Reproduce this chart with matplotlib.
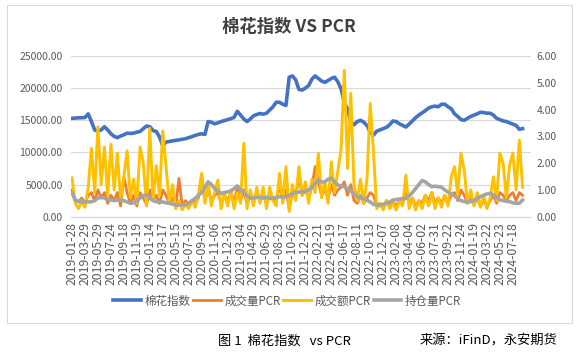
import matplotlib
matplotlib.use("Agg")
import matplotlib.pyplot as plt
from matplotlib.patches import Rectangle
import numpy as np

plt.rcParams['font.family'] = ['Noto Sans CJK SC', 'DejaVu Sans']

# tick labels (one every 4 samples)
date_labels = ['2019-01-28', '2019-03-29', '2019-05-29', '2019-07-24', '2019-09-18',
               '2019-11-19', '2020-01-14', '2020-03-17', '2020-05-15', '2020-07-13',
               '2020-09-04', '2020-11-06', '2020-12-31', '2021-03-04', '2021-04-29',
               '2021-06-29', '2021-08-23', '2021-10-26', '2021-12-20', '2022-02-21',
               '2022-04-19', '2022-06-17', '2022-08-11', '2022-10-13', '2022-12-07',
               '2023-02-08', '2023-04-04', '2023-06-02', '2023-07-31', '2023-09-22',
               '2023-11-24', '2024-01-19', '2024-03-22', '2024-05-23', '2024-07-18']

# 棉花指数 (left axis)
cotton_index = [15300, 15350, 15380, 15400, 15430, 16000, 14800, 13500, 13300, 13500,
                14000, 13500, 12900, 12500, 12300, 12550, 12750, 13000, 12950, 13000,
                13150, 13260, 13700, 14100, 14000, 13400, 13250, 12400, 11000, 11600,
                11700, 11800, 11870, 11950, 12050, 12130, 12300, 12450, 12650, 12800,
                12900, 12800, 14800, 14700, 14450, 14600, 14800, 14950, 15100, 15250,
                15450, 16400, 15800, 15200, 14800, 15200, 15700, 15900, 16050, 15950,
                16100, 16600, 17100, 17800, 17800, 17500, 17300, 21700, 21900, 21300,
                19800, 19700, 20000, 20400, 21400, 21900, 21500, 21100, 20900, 21200,
                21500, 21700, 21000, 19900, 17800, 16700, 14800, 14300, 14800, 15000,
                14700, 14200, 13100, 12700, 13300, 13500, 13700, 13900, 14300, 14900,
                14800, 14450, 14200, 13950, 14400, 14900, 15400, 15800, 16150, 16500,
                16900, 17100, 17200, 17100, 17500, 17500, 17100, 16800, 16000, 15600,
                15100, 15000, 15300, 15600, 15800, 16000, 16250, 16200, 16100, 16100,
                15800, 15300, 15100, 14900, 14800, 14600, 14400, 14200, 13600, 13700]

# 成交量PCR (right axis)
volume_pcr = [1.0, 0.6, 0.55, 0.7, 0.5, 0.8, 0.9, 0.6, 1.0, 0.7,
              0.9, 0.5, 0.8, 0.6, 0.9, 0.4, 1.49, 0.9, 0.5, 0.8,
              0.4, 0.9, 0.7, 0.45, 1.0, 0.6, 0.8, 0.5, 1.0, 0.8,
              0.5, 0.7, 0.4, 1.43, 0.4, 0.6, 0.45, 0.6, 0.5, 0.7,
              1.55, 0.6, 1.0, 0.6, 0.8, 0.9, 0.5, 0.8, 0.6, 0.9,
              0.5, 1.1, 0.6, 1.0, 0.5, 0.8, 0.6, 0.9, 0.6, 0.8,
              0.5, 0.9, 0.7, 0.6, 1.2, 0.6, 1.0, 0.3, 0.9, 0.7,
              1.55, 0.8, 1.0, 0.7, 1.1, 1.87, 1.3, 0.8, 1.0, 0.7,
              1.2, 0.8, 1.0, 1.1, 1.3, 0.8, 1.2, 0.6, 0.5, 0.8,
              0.5, 0.7, 0.9, 0.8, 0.4, 0.5, 0.35, 0.6, 0.4, 0.55,
              0.4, 0.6, 0.5, 0.9, 0.5, 0.7, 0.4, 0.6, 0.5, 0.8,
              0.6, 0.9, 0.5, 0.7, 0.5, 0.8, 0.5, 0.8, 0.9, 0.6,
              1.0, 0.8, 0.5, 0.7, 0.45, 0.7, 0.4, 0.6, 0.4, 0.6,
              0.8, 0.5, 0.9, 0.8, 0.6, 0.8, 0.9, 0.6, 0.9, 0.8]

# 成交额PCR (right axis)
amount_pcr = [1.45, 0.5, 0.3, 0.6, 0.35, 1.1, 2.55, 0.9, 3.36, 1.2,
              2.6, 0.8, 2.7, 1.0, 2.37, 0.6, 1.5, 2.46, 0.7, 1.4,
              0.5, 2.6, 2.0, 0.4, 3.3, 0.6, 1.9, 0.8, 3.2, 1.9,
              0.5, 1.2, 0.3, 0.6, 0.25, 0.5, 0.3, 0.6, 0.35, 0.8,
              1.62, 0.5, 1.3, 0.4, 0.9, 1.37, 0.3, 0.9, 0.4, 1.0,
              0.3, 0.9, 0.5, 2.74, 0.3, 1.0, 0.4, 1.1, 0.5, 1.1,
              0.3, 1.1, 0.6, 0.4, 1.62, 0.5, 1.87, 0.2, 1.2, 0.6,
              1.87, 0.8, 1.3, 0.5, 1.4, 0.9, 2.37, 0.7, 1.3, 0.5,
              2.05, 0.9, 1.7, 2.5, 5.47, 1.8, 4.6, 1.2, 0.6, 1.4,
              0.5, 1.4, 4.23, 2.43, 0.3, 0.5, 0.25, 0.6, 0.3, 0.5,
              0.25, 0.6, 0.4, 1.55, 0.3, 0.7, 0.25, 0.6, 0.3, 0.8,
              0.4, 0.9, 0.3, 0.7, 0.35, 0.8, 0.4, 1.49, 1.87, 0.8,
              2.37, 1.74, 0.5, 1.0, 0.4, 0.9, 0.35, 0.8, 0.3, 0.7,
              1.49, 0.6, 2.37, 2.0, 0.7, 1.93, 2.37, 1.0, 2.86, 1.1]

# 持仓量PCR (right axis)
oi_pcr = [0.9, 0.62, 0.58, 0.56, 0.56, 0.55, 0.56, 0.6, 0.7, 0.72,
          0.7, 0.65, 0.62, 0.6, 0.62, 0.62, 0.6, 0.55, 0.5, 0.52,
          0.6, 0.7, 0.78, 0.82, 0.7, 0.6, 0.56, 0.55, 0.55, 0.52,
          0.5, 0.47, 0.44, 0.44, 0.45, 0.44, 0.5, 0.6, 0.68, 0.8,
          0.9, 1.1, 1.3, 1.2, 1.05, 0.95, 0.87, 0.9, 0.93, 0.95,
          1.05, 1.15, 1.0, 0.9, 0.78, 0.69, 0.7, 0.72, 0.72, 0.7,
          0.72, 0.68, 0.69, 0.72, 0.75, 0.74, 0.74, 0.8, 0.87, 0.9,
          0.92, 0.93, 0.95, 1.0, 1.1, 1.25, 1.37, 1.3, 1.3, 1.4,
          1.43, 1.3, 1.18, 1.15, 1.12, 1.05, 0.98, 0.85, 0.75, 0.72,
          0.68, 0.62, 0.55, 0.46, 0.44, 0.44, 0.46, 0.5, 0.55, 0.62,
          0.64, 0.66, 0.67, 0.69, 0.78, 0.9, 1.05, 1.2, 1.35, 1.3,
          1.2, 1.12, 1.14, 1.12, 1.1, 1.0, 0.92, 0.85, 0.78, 0.68,
          0.6, 0.56, 0.55, 0.56, 0.6, 0.68, 0.75, 0.8, 0.85, 0.87,
          0.82, 0.72, 0.63, 0.6, 0.58, 0.56, 0.52, 0.5, 0.5, 0.62]

x = np.arange(len(cotton_index))
tick_pos = np.arange(len(date_labels)) * 4

fig = plt.figure(figsize=(5.77, 3.57), dpi=100)
fig.patch.set_facecolor('white')

# chart frame
fig.patches.append(Rectangle((7 / 577, 34 / 357), 565 / 577, 318 / 357,
                             transform=fig.transFigure, fill=False,
                             edgecolor='#d9d9d9', linewidth=0.8))

ax = fig.add_axes([71 / 577, 140.3 / 357, 460 / 577, 160.7 / 357])
ax2 = ax.twinx()

l1, = ax.plot(x, cotton_index, color='#4472C4', linewidth=2.6, label='棉花指数')
l2, = ax2.plot(x, volume_pcr, color='#ED7D31', linewidth=2.0, label='成交量PCR')
l3, = ax2.plot(x, amount_pcr, color='#FFC000', linewidth=2.1, label='成交额PCR')
l4, = ax2.plot(x, oi_pcr, color='#A5A5A5', linewidth=2.6, label='持仓量PCR')

ax.set_ylim(0, 25000)
ax2.set_ylim(0, 6)
ax.set_xlim(-0.31, 141.6)
ax.set_yticks(np.arange(0, 25001, 5000))
ax2.set_yticks(np.arange(0, 6.01, 1))
ax.set_yticklabels(['%.2f' % v for v in np.arange(0, 25001, 5000)])
ax2.set_yticklabels(['%.2f' % v for v in np.arange(0, 6.01, 1)])
ax.grid(axis='y', color='#d9d9d9', linewidth=0.8)
ax.set_axisbelow(True)

ax.set_xticks(tick_pos)
ax.set_xticklabels(date_labels, rotation=90)

for a in (ax, ax2):
    for s in a.spines.values():
        s.set_visible(False)
    a.tick_params(length=0, labelsize=7.5, labelcolor='#595959')
ax.tick_params(axis='y', pad=6)
ax2.tick_params(axis='y', pad=4)
ax.tick_params(axis='x', pad=4, labelsize=8.8)
ax.spines['bottom'].set_visible(True)
ax.spines['bottom'].set_color('#d9d9d9')

fig.text(289 / 577, 1 - 27 / 357, '棉花指数 VS PCR', ha='center', va='center',
         fontsize=12.5, fontweight='bold', color='#404040')

fig.legend(handles=[l1, l2, l3, l4], loc='center', bbox_to_anchor=(287 / 577, 1 - 301 / 357),
           ncol=4, frameon=False, fontsize=8.3, handlelength=2.4, handletextpad=0.3,
           columnspacing=0.25, labelcolor='#595959')

fig.text(218 / 577, 1 - 341 / 357, '图 1  棉花指数   vs PCR', ha='left', va='center',
         fontsize=9.5, color='black')
fig.text(420 / 577, 1 - 341 / 357, '来源：iFinD，永安期货', ha='left', va='center',
         fontsize=9.5, color='black')

fig.savefig('out.png', dpi=100)
